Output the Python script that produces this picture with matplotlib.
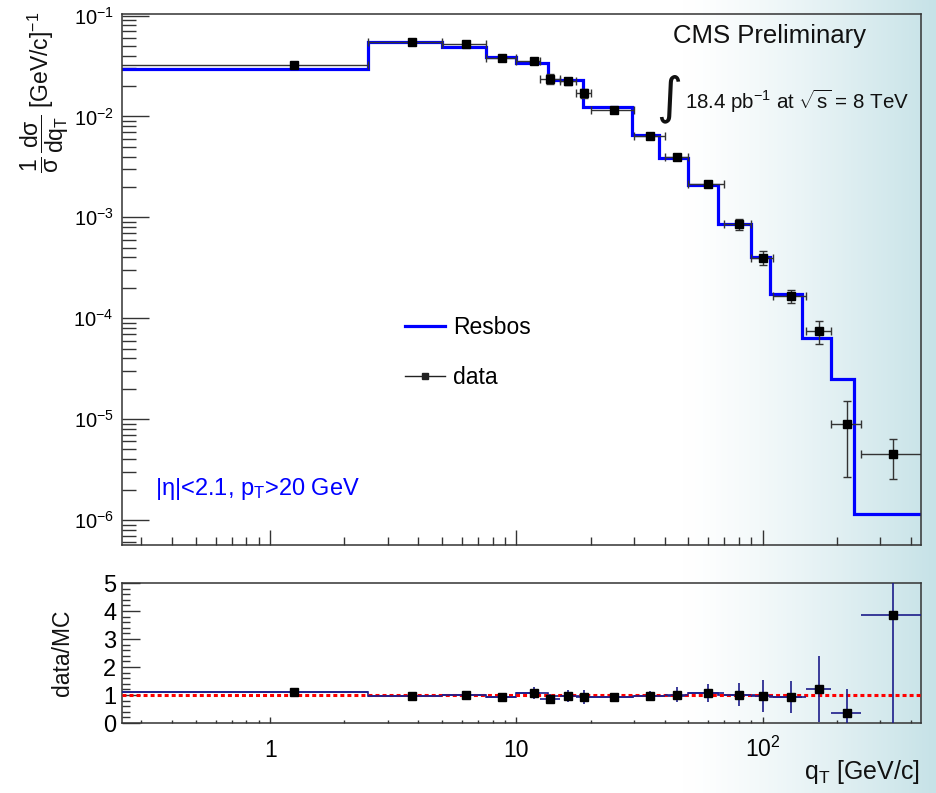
import numpy as np
import matplotlib
matplotlib.use('Agg')
import matplotlib.pyplot as plt
from matplotlib.lines import Line2D
from matplotlib.ticker import LogLocator, NullFormatter, FixedLocator, FixedFormatter, MultipleLocator

# bin centres / edges (GeV/c)
q_centers = [1.25, 3.75, 6.25, 8.75, 11.75, 13.75, 16.25, 18.75, 25, 35, 45, 60, 80, 100, 130, 170, 220, 340]
bin_lo = [0.1, 2.5, 5, 7.5, 10, 12.5, 15, 17.5, 20, 30, 40, 50, 70, 90, 110, 150, 190, 250]
bin_hi = [2.5, 5, 7.5, 10, 12.5, 15, 17.5, 20, 30, 40, 50, 70, 90, 110, 150, 190, 250, 600]

# normalised cross section, data
data_y = [0.0325, 0.0544, 0.0516, 0.0381, 0.0351, 0.0236, 0.0224, 0.0170, 0.01164, 0.00638,
          0.00395, 0.00215, 0.000853, 0.000399, 0.000167, 7.5e-5, 8.85e-6, 4.47e-6]
data_err = [0.0012, 0.0015, 0.0015, 0.0015, 0.0017, 0.0027, 0.0017, 0.0017, 0.0004, 0.00025,
            0.00017, 0.0001, 0.0001, 6.5e-5, 2.5e-5, 1.9e-5, 6.2e-6, 1.9e-6]

# Resbos prediction (histogram)
model_edges = [0.1, 2.5, 5, 7.5, 10, 13.5, 18.6, 29.5, 38, 50, 66, 90, 107, 144, 190, 235, 600]
model_y = [0.0292, 0.055, 0.0485, 0.0387, 0.0337, 0.0228, 0.0124, 0.0065, 0.0039, 0.00207,
           0.00085, 0.000405, 0.000175, 6.4e-5, 2.47e-5, 1.14e-6]

# data / MC
ratio_y = [1.09, 0.975, 1.01, 0.92, 1.07, 0.87, 0.975, 0.93, 0.93, 0.97, 1.01, 1.07, 1.01, 0.97,
           0.92, 1.21, 0.36, 3.87]
ratio_err = [0.15, 0.06, 0.06, 0.16, 0.2, 0.18, 0.21, 0.24, 0.07, 0.18, 0.27, 0.32, 0.42, 0.58,
             0.58, 1.17, 0.85, 4.5]
ratio_line_edges = [0.1, 2.5, 5, 7.5, 10, 13.5, 18.6, 29.5, 38, 50, 66, 90, 107, 144]
ratio_line = [1.09, 0.96, 1.01, 0.92, 1.07, 0.95, 0.93, 0.975, 0.975, 1.07, 1.01, 1.01, 0.92]

plt.rcParams['font.family'] = ['Liberation Sans', 'DejaVu Sans']
plt.rcParams['mathtext.fontset'] = 'custom'
plt.rcParams['mathtext.rm'] = 'Liberation Sans'
plt.rcParams['mathtext.it'] = 'Liberation Sans'
plt.rcParams['mathtext.sf'] = 'Liberation Sans'
plt.rcParams['mathtext.bf'] = 'Liberation Sans:bold'

W, H = 937, 793
fig = plt.figure(figsize=(W / 100, H / 100), dpi=100)
fig.patch.set_facecolor('white')

# white -> teal gradient behind everything
bg = fig.add_axes([0, 0, 1, 1], zorder=-10)
xs = np.linspace(0, 1, 500)
t = np.clip((xs - 0.73) / 0.27, 0, 1) ** 1.3
teal = np.array([198, 226, 231]) / 255.0
grad = (1 - t)[:, None] * np.ones(3) + t[:, None] * teal
bg.imshow(grad[None, :, :], aspect='auto', extent=[0, 1, 0, 1])
bg.axis('off')

edge_col = '#333333'
q = np.array(q_centers)
xerr = [q - np.array(bin_lo), np.array(bin_hi) - q]

# ---- top panel
ax = fig.add_axes([122 / W, 1 - 545 / H, 799 / W, 531 / H])
ax.set_facecolor('none')
ax.set_xscale('log')
ax.set_yscale('log')
ax.stairs(model_y, model_edges, baseline=None, color='#0000ff', lw=2.3, zorder=2)
ax.errorbar(q, data_y, yerr=data_err, xerr=xerr, fmt='s', color='black', ms=5.5,
            ecolor='#333333', elinewidth=1, capsize=3, capthick=1, zorder=3)
ax.set_xlim(0.25, 440)
ax.set_ylim(5.65e-7, 0.1035)

ax.yaxis.set_major_locator(LogLocator(base=10, numticks=12))
ax.yaxis.set_minor_locator(LogLocator(base=10, subs=np.arange(2, 10), numticks=100))
ax.yaxis.set_minor_formatter(NullFormatter())
ax.tick_params(which='both', direction='in', top=False, right=False, color=edge_col, width=1)
ax.tick_params(axis='y', which='major', length=19.4, labelsize=14.5, pad=6)
ax.tick_params(axis='y', which='minor', length=10)
ax.tick_params(axis='x', which='major', length=10.8, labelbottom=False)
ax.tick_params(axis='x', which='minor', length=5.8, labelbottom=False)
for s in ax.spines.values():
    s.set_color(edge_col)
    s.set_linewidth(1.1)

handles = [Line2D([], [], color='#0000ff', lw=2.3),
           Line2D([], [], color='#222222', lw=1, marker='s', ms=4)]
ax.legend(handles, ['Resbos', 'data'], loc='center left', bbox_to_anchor=(0.328, 0.3625),
          frameon=False, fontsize=16.5, handlelength=1.75, handletextpad=0.35,
          labelspacing=1.2)

ax.text(0.6896, 0.9454, 'CMS Preliminary', transform=ax.transAxes, fontsize=18.5,
        ha='left', va='baseline', color='#111111')
ax.text(0.6845, 0.840, '\u222b', transform=ax.transAxes, fontsize=36, family='DejaVu Sans',
        ha='center', va='center', color='#111111')
ax.text(0.7046, 0.8202, r'18.4 pb$^{-1}$ at $\sqrt{s}$ = 8 TeV', transform=ax.transAxes,
        fontsize=14.8, ha='left', va='baseline', color='#111111')
ax.text(0.0413, 0.0942, r'|$\eta$|<2.1, p$_{T}$>20 GeV', transform=ax.transAxes,
        fontsize=17, ha='left', va='baseline', color='#0000ff')

fig.text(45 / W, 1 - 12 / H, r'$\dfrac{1}{\sigma}\,\dfrac{d\sigma}{dq_{T}}$ [GeV/c]$^{-1}$',
         rotation=90, ha='center', va='top', fontsize=16.5, color='#111111')

# ---- ratio panel
ax2 = fig.add_axes([122 / W, 1 - 723 / H, 799 / W, 140 / H])
ax2.set_facecolor('none')
ax2.set_xscale('log')
navy = '#1c1c8a'
ax2.stairs(ratio_line, ratio_line_edges, baseline=None, color=navy, lw=1.2, zorder=2)
ax2.axhline(1.0, color='#ff0000', lw=2.2, ls=(0, (1.3, 1.0)), zorder=3)
ax2.errorbar(q, ratio_y, yerr=ratio_err, xerr=xerr, fmt='s', color='black', ms=5.5,
             ecolor=navy, elinewidth=1.2, capsize=0, zorder=4)
ax2.set_xlim(0.25, 440)
ax2.set_ylim(0, 5)
ax2.yaxis.set_major_locator(MultipleLocator(1))
ax2.yaxis.set_minor_locator(MultipleLocator(0.2))
ax2.xaxis.set_major_locator(FixedLocator([1, 10, 100]))
ax2.xaxis.set_major_formatter(FixedFormatter(['1', '10', r'$10^{2}$']))
ax2.xaxis.set_minor_locator(LogLocator(base=10, subs=np.arange(2, 10), numticks=100))
ax2.xaxis.set_minor_formatter(NullFormatter())
ax2.tick_params(which='both', direction='in', top=False, right=False, color=edge_col, width=1)
ax2.tick_params(axis='y', which='major', length=13, labelsize=17, pad=4)
ax2.tick_params(axis='y', which='minor', length=5.8)
ax2.tick_params(axis='x', which='major', length=4.3, labelsize=16.5, pad=24.5)
ax2.tick_params(axis='x', which='minor', length=2.2)
for lab in ax2.get_xticklabels():
    lab.set_va('baseline')
for s in ax2.spines.values():
    s.set_color(edge_col)
    s.set_linewidth(1.1)

fig.text(62.5 / W, 1 - 610 / H, 'data/MC', rotation=90, ha='center', va='top',
         fontsize=16.5, color='#111111')
fig.text(920 / W, 1 - 779 / H, r'q$_{T}$ [GeV/c]', ha='right', va='baseline',
         fontsize=18, color='#111111')

fig.savefig('out.png', dpi=100)
